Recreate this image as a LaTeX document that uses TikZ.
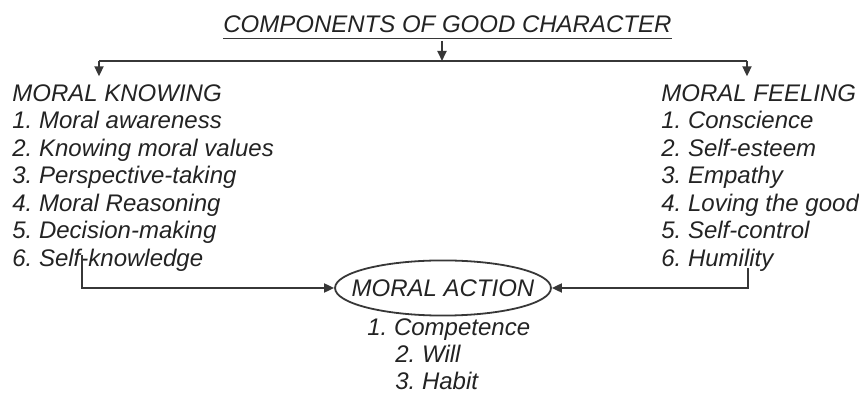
\documentclass[tikz,border=0pt]{standalone}
\usepackage{fontspec}
\setmainfont{Liberation Sans}
\usepackage{tikz}
\usetikzlibrary{shapes,arrows.meta}
\definecolor{myDGray}{RGB}{35,35,35}
\definecolor{myLine}{RGB}{55,55,55}
\frenchspacing

\tikzset{
  txt/.style={font=\fontsize{12}{13}\selectfont\itshape, text=myDGray, inner sep=0pt, anchor=base west},
  conn/.style={draw=myLine, line width=0.9pt},
  arr/.style={conn, -{Triangle[length=5pt,width=4.5pt]}}
}

\begin{document}
\begin{tikzpicture}[x=0.5pt, y=-0.5pt]
  \useasboundingbox (0,0) rectangle (859,395);
  % Titel
  \node[txt] (title) at (223,33) {COMPONENTS OF GOOD CHARACTER};
  \draw[conn] ([yshift=-2.75pt]title.base west) -- ([yshift=-2.75pt]title.base east);
  % Verteiler
  \coordinate (top) at (442,41);
  \coordinate (mid) at (442,61);
  \coordinate (busL) at (99,61);
  \coordinate (busR) at (747,61);
  \draw[arr] (top) -- (mid);
  \draw[conn] (busL) -- (busR);
  % Moral knowing
  \node[txt] (know) at (12,101.5) {MORAL KNOWING};
  \foreach \t [count=\i] in {Moral awareness, Knowing moral values, Perspective-taking,
      Moral Reasoning, Decision-making, Self-knowledge} {
    \node[txt] (k\i) at (12,101.5+27.5*\i) {\i. \t};
  }
  \draw[arr, shorten >=4pt] (busL) -- (busL |- know.north);
  % Moral feeling
  \node[txt] (feel) at (661,101.5) {MORAL FEELING};
  \foreach \t [count=\i] in {Conscience, Self-esteem, Empathy,
      Loving the good, Self-control, Humility} {
    \node[txt] (f\i) at (661,101.5+27.5*\i) {\i. \t};
  }
  \draw[arr, shorten >=4pt] (busR) -- (busR |- feel.north);
  % Moral action
  \node[txt, anchor=center, ellipse, draw=myLine, line width=0.9pt,
        inner xsep=-7.5pt, inner ysep=5.5pt] (action) at (443,288) {MORAL ACTION};
  \coordinate (kfoot) at (82,255);
  \coordinate (ffoot) at (748,268);
  \draw[arr] (kfoot) |- (action.west);
  \draw[arr] (ffoot) |- (action.east);
  \node[txt] (a1) at (367,336) {1. Competence};
  \node[txt] (a2) at (395,363) {2. Will};
  \node[txt] (a3) at (395,390) {3. Habit};
\end{tikzpicture}
\end{document}
